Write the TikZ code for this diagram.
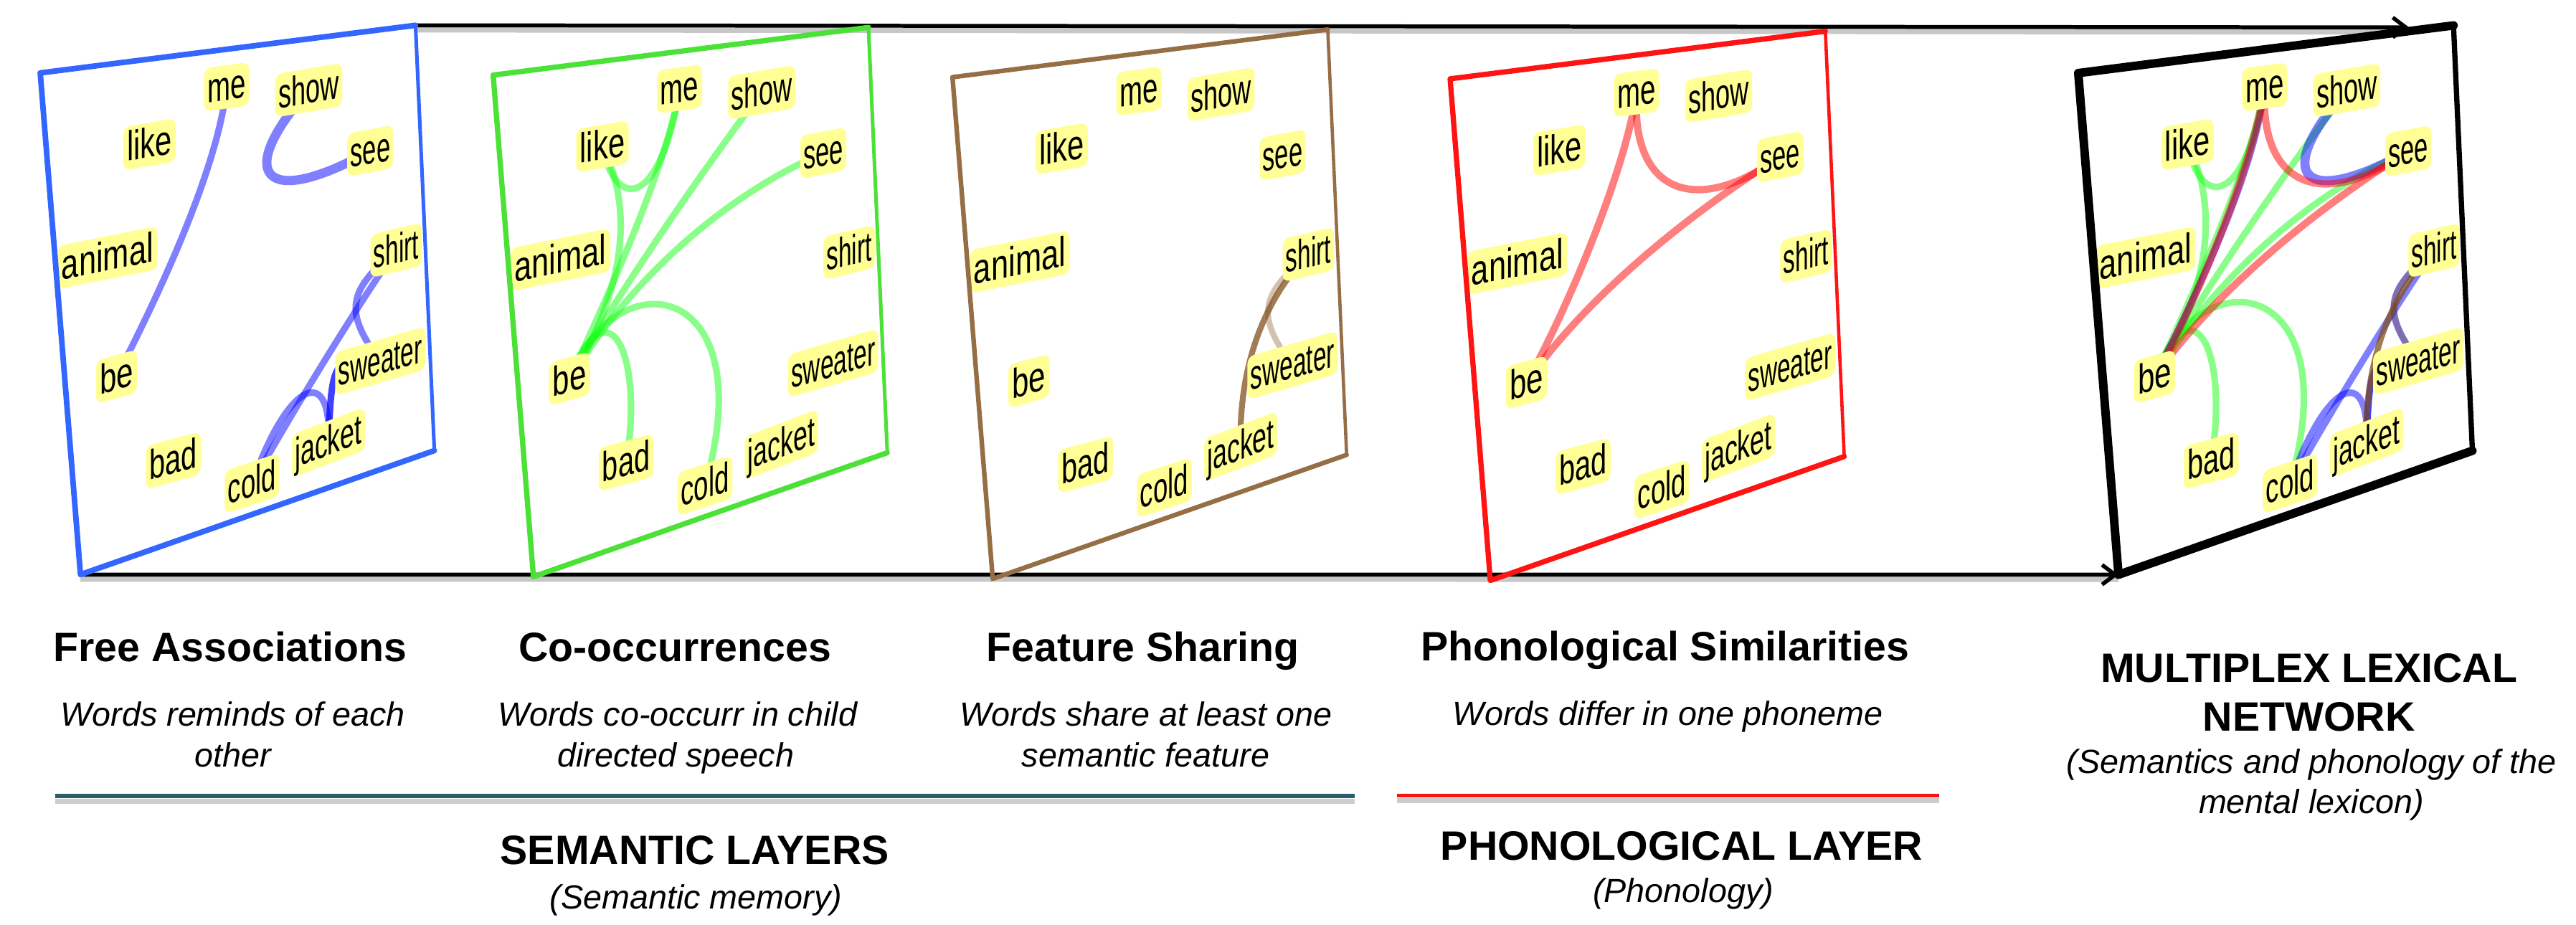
\documentclass[tikz,border=0pt]{standalone}
\usepackage{fontspec}
\setmainfont{Liberation Sans}
\usetikzlibrary{arrows.meta}
\pgfdeclarelayer{edgelayer}
\pgfsetlayers{edgelayer,main}
\definecolor{labyellow}{RGB}{255,255,150}
\definecolor{fablue}{RGB}{51,102,255}
\definecolor{cogreen}{RGB}{75,225,55}
\definecolor{fsbrown}{RGB}{150,110,70}
\definecolor{phred}{RGB}{255,20,20}
\definecolor{semteal}{RGB}{44,93,107}
\definecolor{phline}{RGB}{245,20,20}
\definecolor{eblue}{RGB}{0,0,255}
\definecolor{egreen}{RGB}{20,255,20}
\definecolor{ered}{RGB}{255,0,0}
\definecolor{ebrown}{RGB}{130,80,30}
\tikzset{
  lab/.style={fill=labyellow, rounded corners=2.2pt, inner xsep=1.6pt, inner ysep=1.6pt,
    text height=0.9em, text depth=0.1em, font=\fontsize{12.7}{14}\selectfont},
  faedge/.style={draw=eblue, draw opacity=0.5, line width=2pt, line cap=round},
  coedge/.style={draw=egreen, draw opacity=0.5, line width=2pt, line cap=round},
  phedge/.style={draw=ered, draw opacity=0.5, line width=2.2pt, line cap=round},
  fsedge/.style={draw=ebrown, line width=1.8pt, line cap=round},
  mainline/.style={line width=1.2pt, black},
  shadowline/.style={line width=1.6pt, black!22},
  head/.style={font=\bfseries\fontsize{12.5}{15}\selectfont, anchor=base, inner sep=0pt},
  desc/.style={font=\itshape\fontsize{10.2}{12}\selectfont, anchor=base, inner sep=0pt},
}
\newcommand{\wordpanel}[3]{%
\begin{scope}[shift={(#2,#3)}]
\node[lab,cm={.661,.0894,0,1,(0,0)}] (#1-me) at (113.5,8.5) {me};
\node[lab,cm={.622,.1052,0,1,(0,0)}] (#1-show) at (163.5,10.5) {show};
\node[lab,cm={.717,.1212,0,1,(0,0)}] (#1-like) at (66.5,43.5) {like};
\node[lab,cm={.594,.109,0,1,(0,0)}] (#1-see) at (201,47.5) {see};
\node[lab,cm={.748,.148,0,1,(0,0)}] (#1-animal) at (41,112.5) {animal};
\node[lab,cm={.575,.1348,0,1,(0,0)}] (#1-shirt) at (216.7,108) {shirt};
\node[lab,cm={.724,.198,0,1,(0,0)}] (#1-be) at (46.5,185) {be};
\node[lab,cm={.575,.167,0,1,(0,0)}] (#1-sweater) at (207,175.5) {sweater};
\node[lab,cm={.685,.1836,0,1,(0,0)}] (#1-bad) at (81,236) {bad};
\node[lab,cm={.63,.2047,0,1,(0,0)}] (#1-cold) at (129,250) {cold};
\node[lab,cm={.614,.2333,0,1,(0,0)}] (#1-jacket) at (175.5,225) {jacket};
\end{scope}}
% #1 x, #2 y, #3 colour, #4 thin width (right side), #5 thick width (top, left, bottom)
\newcommand{\pframe}[5]{%
\draw[line join=miter,draw=#3,line width=#4] (#1,#2) -- ++(228.5,-29) -- ++(11.5,259) -- ++(-215.5,75.5) -- cycle;
\draw[line cap=round,line join=round,draw=#3,line width=#5] (#1,#2) ++(228.5,-29) -- (#1,#2) -- ++(24.5,305.5) -- ++(215.5,-75.5);}
\newcommand{\faedges}[1]{%
 \draw[faedge] (#1-me.center) .. controls +(-5.5,51.5) and +(23.3,-45) .. (#1-be.center);
 \draw[faedge,line width=2.8pt] (#1-show.center) .. controls +(-45.5,51) and +(-66,36.7) .. (#1-see.center);
 \draw[faedge] (#1-shirt.center) .. controls +(-18.7,26.5) and +(31,-55) .. (#1-cold.center);
 \draw[faedge] (#1-shirt.center) .. controls +(-30,25) and +(-22,-30) .. (#1-sweater.center);
 \draw[faedge,draw opacity=0.75] (#1-jacket.center) .. controls +(2,-45) and +(-30,-5.5) .. (#1-sweater.center);
 \draw[faedge] (#1-cold.center) .. controls +(23,-65) and +(2.5,-47) .. (#1-jacket.center);
}
\newcommand{\coedges}[1]{%
 \draw[coedge] (#1-be.center) .. controls +(23.3,-50) and +(-7.5,46.5) .. (#1-me.center);
 \draw[coedge] (#1-be.center) .. controls +(35.3,-55) and +(18.5,35.5) .. (#1-like.center);
 \draw[coedge] (#1-like.center) .. controls +(8.5,40.5) and +(-11.5,71.5) .. (#1-me.center);
 \draw[coedge] (#1-be.center) .. controls +(28.3,-50) and +(-38.5,51) .. (#1-show.center);
 \draw[coedge] (#1-be.center) .. controls +(43.3,-70) and +(-51,21.7) .. (#1-see.center);
 \draw[coedge] (#1-be.center) .. controls +(23.3,-60) and +(11,-66.5) .. (#1-bad.center);
 \draw[coedge] (#1-be.center) .. controls +(28.3,-75) and +(36,-125) .. (#1-cold.center);
}
\newcommand{\phedges}[1]{%
 \draw[phedge] (#1-me.center) .. controls +(-6.5,46.5) and +(25.3,-45) .. (#1-be.center);
 \draw[phedge] (#1-me.center) .. controls +(-3.5,61.5) and +(-51,36.7) .. (#1-see.center);
 \draw[phedge] (#1-be.center) .. controls +(38.3,-55) and +(-51,31.7) .. (#1-see.center);
}
\newcommand{\fsedges}[1]{%
 \draw[fsedge,draw opacity=0.75] (#1-shirt.center) .. controls +(-26.7,26.5) and +(-1.5,-48.5) .. (#1-jacket.center);
 \draw[fsedge,draw opacity=0.35] (#1-shirt.center) .. controls +(-30,25) and +(-22,-30) .. (#1-sweater.center);
}
\begin{document}
\begin{tikzpicture}[x=0.5pt,y=-0.5pt]
\useasboundingbox (0,0) rectangle (1568.6,563.2);
% long connecting lines
\coordinate (topstart) at (253,15.4);
\coordinate (topend) at (1467,16.7);
\coordinate (botstart) at (49,349.9);
\coordinate (botend) at (1290,350);
\draw[shadowline] ([yshift=-1.4pt]topstart) -- ([yshift=-1.4pt]topend);
\draw[shadowline] ([yshift=-1.4pt]botstart) -- ([yshift=-1.4pt]botend);
\draw[mainline,-{Straight Barb[length=4pt,width=6pt]}] (topstart) -- (topend);
\draw[mainline,-{Straight Barb[length=4pt,width=6pt]}] (botstart) -- (botend);
% panels
\wordpanel{A}{24.5}{44.4}
\wordpanel{B}{300.3}{45.7}
\wordpanel{C}{580}{47}
\wordpanel{D}{883}{48}
\wordpanel{E}{1265.5}{44.5}
\pframe{24.5}{44.4}{fablue}{1.1pt}{1.7pt}
\pframe{300.3}{45.7}{cogreen}{1.1pt}{1.6pt}
\pframe{580}{47}{fsbrown}{1.0pt}{1.4pt}
\pframe{883}{48}{phred}{1.0pt}{1.6pt}
\pframe{1265.5}{44.5}{black}{1.6pt}{2.6pt}
\begin{pgfonlayer}{edgelayer}
\faedges{A}
\coedges{B}
\fsedges{C}
\phedges{D}
\coedges{E}
\faedges{E}
\fsedges{E}
\phedges{E}
\end{pgfonlayer}
% texts
\node[head] (h1) at (140.2,403) {Free Associations};
\node[head] (h2) at (411,403) {Co-occurrences};
\node[head] (h3) at (696,403) {Feature Sharing};
\node[head] (h4) at (1014,402.5) {Phonological Similarities};
\node[desc] (d1a) at (141.8,442.3) {Words reminds of each};
\node[desc] (d1b) at (141.8,467.1) {other};
\node[desc] (d2a) at (412.5,442.3) {Words co-occurr in child};
\node[desc] (d2b) at (411.5,467.1) {directed speech};
\node[desc] (d3a) at (697.9,442.3) {Words share at least one};
\node[desc] (d3b) at (697.6,467.1) {semantic feature};
\node[desc] (d4a) at (1015.7,441.8) {Words differ in one phoneme};
\node[head] (m1) at (1406,415.4) {MULTIPLEX LEXICAL};
\node[head] (m2) at (1406,445.2) {NETWORK};
\node[desc] (m3) at (1407.5,471) {(Semantics and phonology of the};
\node[desc] (m4) at (1407.5,495.2) {mental lexicon)};
\node[head] (s1) at (423,526.6) {SEMANTIC LAYERS};
\node[desc] (s2) at (423.8,553.3) {(Semantic memory)};
\node[head] (p1) at (1024,523.7) {PHONOLOGICAL LAYER};
\node[desc] (p2) at (1025,549.6) {(Phonology)};
% layer rules
\draw[line width=1.6pt, black!20] (33.5,488) -- (825,488);
\draw[line width=1.3pt, semteal] (33.5,484.8) -- (825,484.8);
\draw[line width=1.6pt, black!20] (850.7,487.7) -- (1180.8,487.7);
\draw[line width=1.3pt, phline] (850.7,484.5) -- (1180.8,484.5);
\end{tikzpicture}
\end{document}
